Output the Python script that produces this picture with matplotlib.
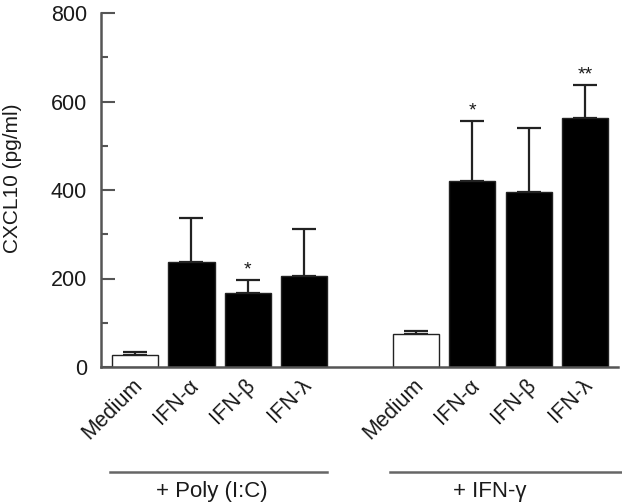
import matplotlib
matplotlib.use("Agg")
import matplotlib.pyplot as plt
import matplotlib.transforms as mtransforms
from matplotlib.ticker import MultipleLocator

plt.rcParams['font.family'] = ['Liberation Sans', 'DejaVu Sans']

categories = ['Medium', 'IFN-α', 'IFN-β', 'IFN-λ']
poly_means = [28, 238, 167, 205]
poly_err = [6, 98, 30, 107]
poly_stars = ['', '', '*', '']
ifng_means = [74, 421, 395, 563]
ifng_err = [8, 134, 146, 74]
ifng_stars = ['', '*', '', '**']
group_labels = ['+ Poly (I:C)', '+ IFN-γ']

poly_x = [0, 1, 2, 3]
ifng_x = [5, 6, 7, 8]

fig = plt.figure(figsize=(6.22, 5.04), dpi=100)
ax = fig.add_axes([101 / 622, 1 - 367 / 504, 517 / 622, 354 / 504])

spine_col = '#555555'
text_col = '#1a1a1a'
x_all = poly_x + ifng_x
means = poly_means + ifng_means
errs = poly_err + ifng_err
stars = poly_stars + ifng_stars
faces = ['white' if c == 'Medium' else 'black' for c in categories] * 2

ax.bar(x_all, means, width=0.82, color=faces, edgecolor='#222222', linewidth=1.0, zorder=2)
ax.errorbar(x_all, means, yerr=[[0] * len(errs), errs], fmt='none', ecolor='#222222',
            elinewidth=1.6, capsize=8.5, capthick=1.6, zorder=1)

for x, m, e, s in zip(x_all, means, errs, stars):
    if s:
        ax.annotate(s, (x, m + e), xytext=(0, 4), textcoords='offset points',
                    ha='center', va='baseline', fontsize=14, color=text_col)

ax.set_xlim(-0.61, 8.59)
ax.set_ylim(0, 800)
ax.yaxis.set_major_locator(MultipleLocator(200))
ax.yaxis.set_minor_locator(MultipleLocator(100))
ax.tick_params(axis='y', which='major', direction='in', length=10, width=1.5,
               color=spine_col, labelsize=15.5, labelcolor=text_col, pad=10)
ax.tick_params(axis='y', which='minor', direction='in', length=5, width=1.5, color=spine_col)
ax.set_ylabel('CXCL10 (pg/ml)', fontsize=15, color=text_col, va='center')
ax.yaxis.set_label_coords(-88 / 517, 0.534)

for side in ['top', 'right']:
    ax.spines[side].set_visible(False)
for side in ['left', 'bottom']:
    ax.spines[side].set_color(spine_col)
    ax.spines[side].set_linewidth(1.8)

ax.set_xticks(x_all)
ax.set_xticklabels(categories * 2, fontsize=15.5, rotation=45, ha='right', va='center',
                   rotation_mode='anchor', color=text_col)
ax.tick_params(axis='x', length=0, pad=11)
offset = mtransforms.ScaledTranslation(4 / 100, 0, fig.dpi_scale_trans)
for lab in ax.get_xticklabels():
    lab.set_transform(lab.get_transform() + offset)

# group brackets under the labels
trans = mtransforms.blended_transform_factory(ax.transData, ax.transAxes)
ax.plot([-0.45, 3.41], [-0.297, -0.297], color='#666666', lw=1.8, transform=trans, clip_on=False)
ax.plot([4.53, 8.7], [-0.297, -0.297], color='#666666', lw=1.8, transform=trans, clip_on=False)
ax.text(1.36, -0.353, group_labels[0], transform=trans, ha='center', va='center',
        fontsize=16, color=text_col)
ax.text(6.31, -0.353, group_labels[1], transform=trans, ha='center', va='center',
        fontsize=16, color=text_col)

fig.savefig('out.png', dpi=100)
